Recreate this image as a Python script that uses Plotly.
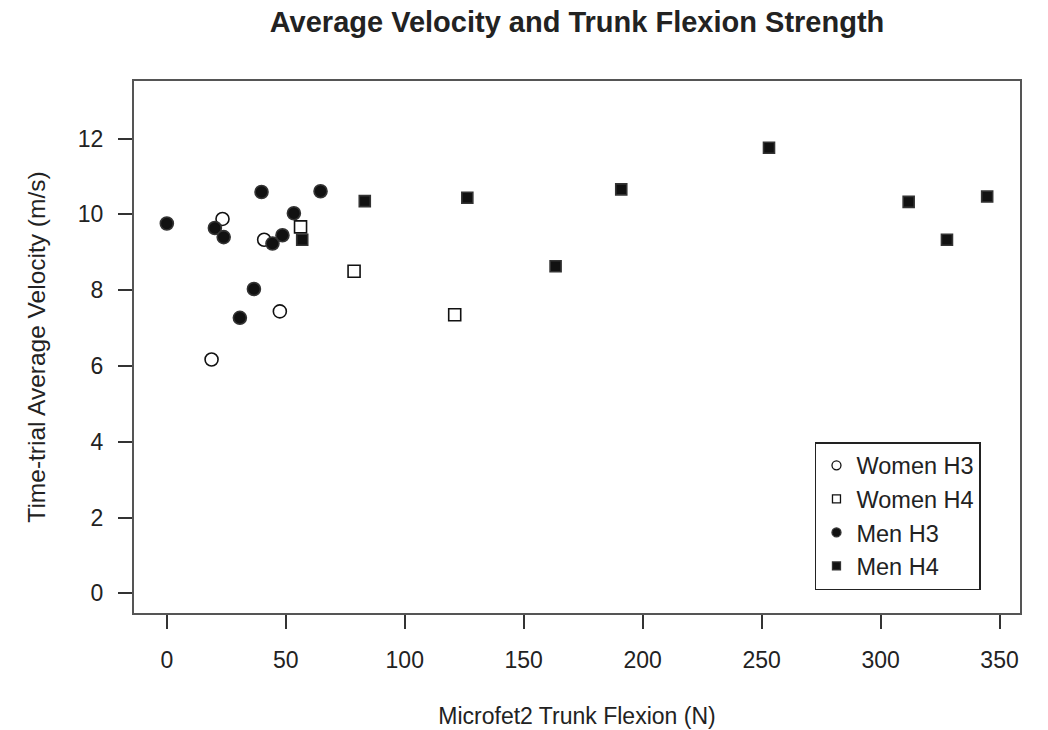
import plotly.graph_objects as go

# Data
women_h3_x = [18.8, 23.4, 40.9, 47.5]
women_h3_y = [6.17, 9.88, 9.33, 7.44]

women_h4_x = [56.2, 78.7, 121.0]
women_h4_y = [9.67, 8.50, 7.35]

men_h3_x = [0.0, 20.2, 23.9, 30.7, 36.6, 39.8, 44.4, 48.6, 53.4, 64.6]
men_h3_y = [9.76, 9.64, 9.40, 7.27, 8.03, 10.59, 9.23, 9.45, 10.03, 10.61]

men_h4_x = [56.9, 83.2, 126.3, 163.4, 191.0, 253.1, 311.8, 327.9, 344.8]
men_h4_y = [9.33, 10.35, 10.44, 8.63, 10.66, 11.76, 10.33, 9.33, 10.47]

x_ticks = [0, 50, 100, 150, 200, 250, 300, 350]
y_ticks = [0, 2, 4, 6, 8, 10, 12]

series = [
    ("Women H3", women_h3_x, women_h3_y, "circle-open", 13),
    ("Women H4", women_h4_x, women_h4_y, "square-open", 12),
    ("Men H3", men_h3_x, men_h3_y, "circle", 13),
    ("Men H4", men_h4_x, men_h4_y, "square", 11),
]

FONT = "Liberation Sans, Arial, sans-serif"
TXT = "#222222"

fig = go.Figure()
for name, xs, ys, sym, sz in series:
    fig.add_trace(go.Scatter(
        x=xs, y=ys, mode="markers", name=name, showlegend=False,
        marker=dict(symbol=sym, size=sz, color="#111111",
                    line=dict(width=1.6, color="#333333")),
        hoverinfo="x+y",
    ))
# legend entries (smaller symbols, as in the reference legend)
for name, xs, ys, sym, sz in series:
    fig.add_trace(go.Scatter(
        x=[None], y=[None], mode="markers", name=name, showlegend=True,
        marker=dict(symbol=sym, size=9 if "circle" in sym else 8, color="#111111",
                    line=dict(width=1.3, color="#333333")),
    ))

fig.update_layout(
    width=1048, height=730,
    margin=dict(l=134, r=28, t=81, b=117),
    paper_bgcolor="white", plot_bgcolor="white",
    font=dict(family=FONT, size=23, color=TXT),
    title=dict(text="<b>Average Velocity and Trunk Flexion Strength</b>",
               x=0.5, xref="paper", xanchor="center",
               y=1 - 22 / 730, yref="container", yanchor="middle",
               font=dict(size=29, family=FONT, color=TXT)),
    legend=dict(x=0.7686, y=0.3214, xanchor="left", yanchor="top",
                bgcolor="white", bordercolor="#222222", borderwidth=1.5,
                font=dict(size=23.5, family=FONT, color=TXT),
                itemwidth=30),
    showlegend=True,
)
fig.update_xaxes(
    range=[-13.8, 358.6], tickvals=x_ticks, ticktext=[str(v) for v in x_ticks],
    showgrid=False, zeroline=False, automargin=False,
    showline=True, linecolor="#555555", linewidth=2, mirror=True,
    ticks="outside", ticklen=14, tickwidth=1.5, tickcolor="#333333",
    ticklabelstandoff=11,
    title=dict(text="Microfet2 Trunk Flexion (N)", standoff=36,
               font=dict(size=23, family=FONT, color=TXT)),
)
fig.update_yaxes(
    range=[-0.52, 13.52], tickvals=y_ticks, ticktext=[str(v) for v in y_ticks],
    showgrid=False, zeroline=False, automargin=False,
    showline=True, linecolor="#555555", linewidth=2, mirror=True,
    ticks="outside", ticklen=14, tickwidth=1.5, tickcolor="#333333",
    ticklabelstandoff=10,
    title=dict(text="Time-trial Average Velocity (m/s)", standoff=25,
               font=dict(size=24.5, family=FONT, color=TXT)),
)

fig.write_html("out.html")
